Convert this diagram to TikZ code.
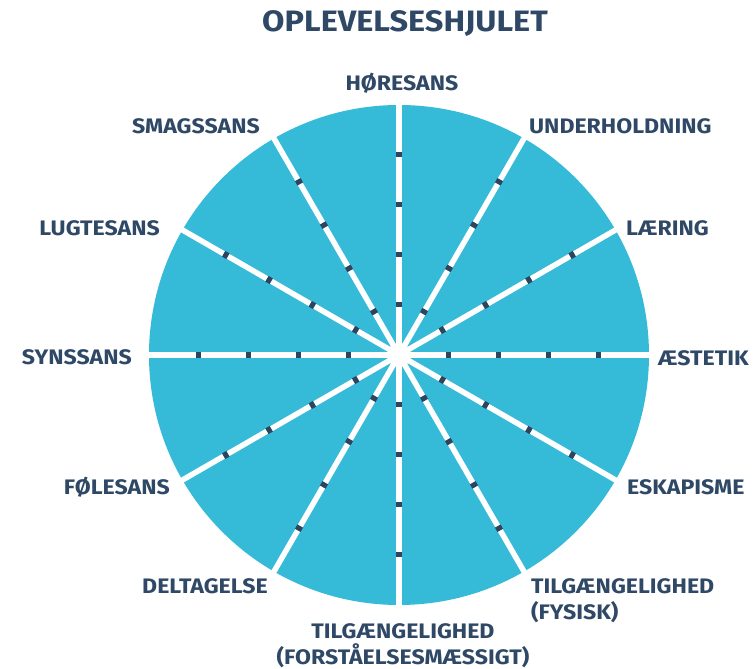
\documentclass[tikz,border=0pt]{standalone}
\usepackage{fontspec}
\setmainfont{Fira Sans}[BoldFont={Fira Sans Bold}, FakeStretch=1.1]
\definecolor{wheelblue}{HTML}{35BBD8}
\definecolor{labelnavy}{HTML}{2E4866}
\definecolor{tickdark}{HTML}{2C4560}
\begin{document}
\begin{tikzpicture}[x=1pt,y=1pt,
  lbl/.style={inner sep=0pt, text=labelnavy, font=\bfseries\fontsize{21}{27}\selectfont,
              text height=14.5pt, text depth=0pt},
  twoline/.style={inner sep=0pt, text=labelnavy, font=\bfseries\fontsize{21}{26}\selectfont},
  spoke/.style={white, line width=5.5pt},
  tickmark/.style={tickdark, line width=6.5pt}]
\useasboundingbox (-399,-314) rectangle (354,355);

% wheel body
\fill[wheelblue] (0,0) circle (250);
% white spokes every 30 degrees
\foreach \a in {0,30,...,330}
  \draw[spoke] (0,0) -- (\a:252);
\fill[white] (0,0) circle (12);
% scale marks on each spoke
\foreach \a in {0,30,...,330}
  \foreach \r in {50,100,150,200}
    \draw[tickmark] (\a:\r-2.5) -- (\a:\r+2.5);

% title
\node[lbl, font=\bfseries\fontsize{29.5}{32}\selectfont, text height=20pt] (title) at (6,333) {OPLEVELSESHJULET};

% labels around the wheel
\node[lbl] (hore) at (3,272) {HØRESANS};
\node[lbl, anchor=west] (under) at (130,229) {UNDERHOLDNING};
\node[lbl, anchor=west] (laer) at (227,127) {LÆRING};
\node[lbl, anchor=west] (aest) at (259,-3) {ÆSTETIK};
\node[lbl, anchor=west] (eskap) at (228,-132) {ESKAPISME};
\node[twoline, anchor=north west, align=left] (fysisk) at (132,-223) {TILGÆNGELIGHED\\(FYSISK)};
\node[twoline, anchor=north, align=center] (forst) at (4,-268) {TILGÆNGELIGHED\\(FORSTÅELSESMÆSSIGT)};
\node[lbl, anchor=east] (delt) at (-131,-231) {DELTAGELSE};
\node[lbl, anchor=east] (foel) at (-229,-132) {FØLESANS};
\node[lbl, anchor=east] (syn) at (-267,-2) {SYNSSANS};
\node[lbl, anchor=east] (lugt) at (-239,127) {LUGTESANS};
\node[lbl, anchor=east] (smag) at (-139,229) {SMAGSSANS};
\end{tikzpicture}
\end{document}
